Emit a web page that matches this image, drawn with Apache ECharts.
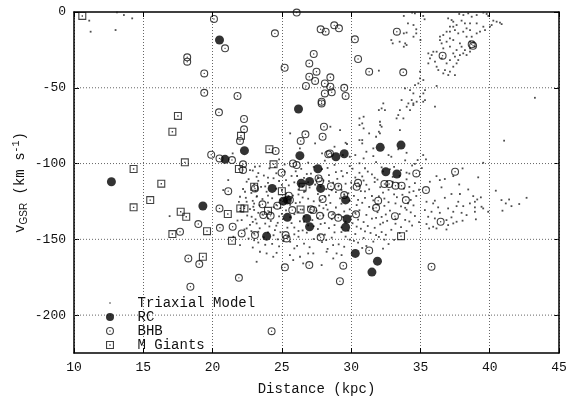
<!DOCTYPE html>
<html><head><meta charset="utf-8">
<script src="https://cdn.jsdelivr.net/npm/echarts@6/dist/echarts.min.js"></script>
<style>html,body{margin:0;padding:0;background:#fff}#c{width:569px;height:396px}</style>
</head><body><div id="c"></div>
<script>
// Axis ticks
const xTicks = [10, 15, 20, 25, 30, 35, 40, 45];
const yTicks = [0, -50, -100, -150, -200];
const yMin = -225;

// Distance (kpc), v_GSR (km/s)
const triaxialModel = [
  // far-left stragglers
  [11.1,-5.7],[11.2,-13],[13.0,-11.9],[13.1,-0.3],[13.6,-2],[14.2,-4.2],[16.9,-134.7],
  // rising stream
  [33.8,-2.6],[34.4,-0.4],[34.6,-0.9],[35.2,-2.6],[35.3,-4.8],[34.1,-7.5],[34.5,-8.6],[33.8,-14.1],[34.0,-13.6],
  [32.9,-18.5],[33.0,-20.7],[33.5,-19.6],[33.9,-20.7],[33.8,-22.9],[34.0,-21.8],[34.7,-14.1],[34.5,-16.3],[35.0,-18.5],[34.7,-11.4],
  [37.0,-4.2],[37.25,-5.3],[37.8,-1.3],[38.1,-2.0],[38.45,-0.9],[38.7,-3.1],[39.06,-2.0],[39.54,-0.4],[39.78,-1.3],[39.9,-2.6],
  [40.26,-5.7],[40.5,-6.4],[40.74,-7.0],[40.86,-8.0],[40.14,-8.6],[40.02,-9.7],[39.54,-9.7],[39.66,-11.9],[39.3,-13.0],[39.06,-14.1],
  [38.7,-16.3],[38.33,-16.3],[38.58,-19.6],[38.82,-20.2],[38.94,-22.9],[38.58,-24.0],[38.21,-25.1],[38.09,-27.3],[38.33,-28.4],[38.58,-26.2],
  [37.85,-28.4],[37.61,-25.1],[37.37,-18.5],[37.13,-17.4],[36.89,-19.6],[36.53,-20.7],[36.41,-18.5],[37.13,-22.9],[36.65,-24.0],[37.37,-27.3],
  [37.49,-29.5],[37.13,-31.7],[36.89,-33.9],[37.37,-36.1],[37.13,-39.4],[37.01,-41.6],[36.65,-40.5],[36.29,-38.3],[36.17,-36.1],[36.05,-32.8],
  [35.69,-30.6],[35.57,-33.9],[35.81,-28.4],[35.93,-26.2],[35.57,-27.3],[36.17,-26.2],[36.53,-30.6],[36.77,-38.3],[37.49,-41.6],[37.61,-33.9],
  [37.73,-31.7],[37.85,-20.7],[37.97,-22.9],[38.09,-13.0],[37.73,-14.1],[37.49,-11.9],[37.13,-13.0],[36.89,-13.0],[36.41,-16.3],[36.65,-15.2],
  [38.33,-10.8],[38.58,-11.9],[39.06,-7.5],[38.58,-7.5],[38.21,-7.5],[37.97,-5.7],[37.61,-8.6],[37.37,-9.7],[37.37,-6.4],[37.13,-9.7],
  [34.97,-39.4],[34.97,-43.8],[34.85,-47.1],[34.61,-48.2],[35.21,-44.9],[35.33,-51.5],[35.21,-53.7],[34.97,-55.9],[34.49,-53.7],[34.25,-51.5],
  [34.37,-58.1],[34.49,-60.3],[34.13,-60.3],[34.01,-62.5],[34.25,-64.7],[34.49,-61.4],[34.73,-59.2],[33.89,-50.4],[33.64,-58.1],[33.52,-64.7],
  [33.4,-68.0],[33.77,-70.2],[33.28,-70.2],[32.32,-60.3],[32.2,-63.6],[32.44,-64.7],[32.08,-72.4],[32.2,-75.7],[32.08,-80.1],[33.52,-77.9],
  [36.05,-62.5],[35.33,-58.1],[36.17,-48.8],
  [32.0,-38.7],[32.0,-64.7],[30.6,-70.2],[30.9,-69.1],[30.8,-73.5],[30.9,-76.8],[29.2,-77.9],[32.0,-79.0],[31.8,-82.3],[31.3,-80.1],
  [30.8,-86.7],[30.6,-84.5],[29.7,-87.1],[29.6,-86.3],[30.3,-94.4],[31.6,-90.0],[31.6,-95.1],[32.7,-94.4],[32.9,-95.5],[33.4,-90.6],
  [34.0,-92.9],[35.2,-94.4],[34.8,-97.7],[35.4,-97.2],
  // sparse band above the main clump
  [25.6,-80.1],[26.3,-90.0],[27.4,-86.7],[27.9,-93.3],[28.8,-88.9],[29.4,-94.4],[29.9,-95.5],[30.6,-74.6],[30.8,-84.5],[31.1,-92.2],
  [32.1,-74.6],[28.5,-75.7],[21.45,-93.3],
  // right wing of the clump
  [35.2,-59.2],[41.04,-84.9],[39.53,-99.5],[38.04,-103.2],[37.37,-108.3],[36.16,-108.3],[39.17,-109.1],[35.68,-112],[36.4,-110.9],[36.76,-110.2],
  [37.8,-113.8],[36.52,-115.7],[38.45,-117.1],[40.44,-117.9],[37.24,-120.1],[37.85,-120.1],[36.76,-122.6],[38.81,-121.5],[39.36,-122.3],[39.1,-123.7],
  [40.85,-124.1],[41.4,-123.7],[42.66,-122.6],[41.16,-126.3],[41.57,-128.1],[42.13,-126.7],[40.92,-131.1],[35.44,-125.2],[35.92,-126.3],[36.04,-124.5],
  [37.73,-125.2],[38.57,-126.3],[38.93,-125.2],[39.41,-128.5],[38.93,-128.9],[38.09,-128.1],[37.61,-128.1],[37.0,-129.6],[36.28,-128.9],[35.32,-130.7],
  [35.8,-131.8],[36.4,-132.5],[37.37,-131.8],[37.97,-132.5],[38.33,-134],[38.93,-131.8],[39.53,-129.6],[39.89,-131.8],[35.56,-135.1],[36.04,-136.2],
  [36.88,-137.3],[37.24,-135.5],[37.61,-138.4],[38.04,-137.7],[39.0,-136.8],[35.44,-139.9],[35.92,-141.7],[37.0,-140.6],[37.37,-139.5],[35.63,-142.8],
  [36.16,-142.8],[36.88,-143.5],[43.26,-56.6],
  // left fringe of the clump
  [23.06,-102.1],[22.7,-104.3],[23.18,-108.7],[22.46,-112],[21.98,-121.9],[22.34,-118.6],[23.18,-121.9],[22.46,-125.2],[22.94,-128.5],[22.82,-135.1],
  [22.1,-137.3],[23.18,-139.5],[22.46,-142.8],[21.5,-148.3],[21.98,-153.8],[21.13,-110.9],[20.77,-117.5],[23.3,-145],
  // main clump
  [24.8,-97.2],[26.9,-99.4],[28.1,-98.1],[30.9,-96.6],[31.8,-99.0],[33.9,-97.9],[34.6,-100.2],
  [23.4,-101.8],[25.2,-100.6],[27.3,-102.2],[28.8,-100.9],[29.9,-101.7],[30.6,-99.8],[32.2,-102.5],[34.4,-101.3],
  [22.9,-104.6],[24.1,-103.2],[26.0,-105.1],[27.9,-103.7],[29.3,-104.9],[30.1,-103.4],[31.2,-105.3],[32.8,-103.9],[33.6,-104.4],[35.1,-103.0],
  [23.7,-107.9],[24.6,-106.4],[25.7,-108.2],[26.8,-106.9],[28.4,-107.6],[29.7,-106.2],[30.8,-108.5],[31.5,-107.1],[33.0,-108.8],[34.2,-106.6],
  [22.6,-110.3],[23.3,-111.4],[24.4,-109.7],[25.3,-110.9],[26.6,-109.4],[28.0,-111.2],[29.0,-110.1],[30.3,-109.2],[31.9,-110.6],[32.6,-111.7],[34.0,-110.4],
  [23.0,-113.6],[24.0,-112.8],[25.0,-114.1],[25.9,-112.4],[27.4,-113.9],[28.7,-112.6],[29.6,-113.3],[31.1,-114.0],[31.7,-112.2],[33.4,-113.1],[34.6,-112.9],
  [22.2,-116.8],[23.5,-115.4],[24.6,-116.6],[26.2,-117.2],[27.0,-115.8],[28.2,-116.9],[29.3,-117.4],[30.0,-116.1],[31.3,-117.0],[32.1,-115.6],[33.8,-116.5],[34.9,-117.3],
  [22.8,-119.4],[23.9,-118.6],[25.3,-119.9],[26.7,-118.3],[27.6,-120.1],[28.9,-118.9],[29.8,-119.6],[30.7,-118.2],[32.3,-119.2],[33.1,-120.3],[34.2,-119.0],
  [22.4,-122.6],[23.2,-121.5],[24.3,-122.9],[25.8,-121.2],[26.5,-122.4],[28.1,-121.8],[29.2,-123.0],[30.2,-121.3],[31.0,-122.7],[32.0,-121.6],[33.3,-122.2],[34.7,-121.4],
  [21.9,-125.3],[22.9,-124.6],[24.0,-125.8],[24.9,-124.2],[26.3,-125.6],[27.3,-124.9],[28.5,-126.0],[29.9,-124.5],[30.8,-125.9],[31.6,-124.3],[32.7,-125.5],[34.1,-126.2],
  [22.3,-128.2],[23.4,-127.5],[24.4,-128.8],[25.6,-127.2],[26.9,-128.4],[27.7,-127.8],[28.9,-129.0],[30.4,-127.4],[31.3,-128.6],[32.4,-127.9],[33.6,-128.3],[34.5,-127.6],
  [22.0,-131.4],[23.0,-130.6],[24.1,-131.8],[25.3,-130.9],[26.2,-132.0],[27.5,-131.1],[28.3,-130.4],[29.5,-131.6],[30.6,-130.8],[31.9,-132.1],[32.8,-131.0],[34.0,-130.5],
  [22.5,-134.3],[23.6,-133.6],[24.8,-134.9],[25.9,-133.4],[26.6,-135.0],[28.0,-134.2],[29.1,-133.7],[30.0,-134.8],[31.1,-133.9],[32.2,-135.2],[33.5,-133.3],[34.6,-134.6],
  [21.8,-137.6],[23.1,-136.8],[24.2,-137.9],[25.1,-136.5],[26.3,-138.1],[27.2,-137.3],[28.6,-136.7],[29.6,-138.3],[30.5,-137.0],[31.5,-136.3],[32.6,-137.8],[33.9,-137.2],[34.9,-138.6],
  [22.7,-140.4],[23.8,-139.6],[24.6,-141.0],[25.7,-139.3],[26.9,-140.8],[27.8,-139.9],[28.8,-140.6],[30.1,-139.4],[31.2,-141.2],[32.1,-140.1],[33.2,-139.7],[34.4,-140.9],
  [22.3,-143.5],[23.4,-142.7],[24.5,-143.9],[25.4,-142.3],[26.5,-144.1],[27.6,-143.2],[28.4,-142.6],[29.8,-144.3],[30.7,-143.0],[31.7,-142.4],[32.9,-143.7],[34.0,-144.5],
  [23.0,-146.2],[24.0,-145.4],[25.9,-146.7],[26.8,-145.6],[28.1,-146.9],[29.3,-145.2],[30.3,-146.5],[31.4,-145.8],[32.5,-147.0],[33.5,-145.9],
  [22.6,-149.5],[23.7,-148.7],[24.7,-150.0],[26.2,-148.3],[27.3,-149.8],[28.6,-148.9],[29.9,-150.2],[30.9,-149.1],[32.0,-148.4],[33.1,-150.4],
  [23.3,-152.1],[24.3,-153.0],[25.6,-151.6],[26.6,-152.8],[27.9,-151.9],[29.1,-153.3],[30.5,-152.2],[31.6,-151.5],[32.7,-153.1],
  [22.9,-155.4],[24.8,-154.7],[25.9,-156.0],[27.0,-155.2],[28.3,-156.3],[29.5,-154.9],[30.8,-155.7],[32.3,-156.1],
  // denser core of the clump
  [24.5,-102.4],[26.4,-103.5],[28.3,-102.9],[31.0,-103.1],[33.1,-102.2],
  [23.3,-106.3],[25.2,-105.4],[27.1,-106.6],[28.9,-105.7],[30.6,-106.1],[32.3,-105.2],[34.0,-106.0],
  [24.0,-109.3],[26.1,-108.2],[27.6,-109.0],[29.4,-108.4],[31.7,-109.4],[33.5,-108.1],
  [24.8,-111.5],[26.9,-112.3],[28.4,-111.6],[30.0,-112.5],[30.9,-111.2],[33.0,-112.0],
  [23.8,-115.1],[25.5,-114.4],[27.8,-115.3],[29.1,-114.6],[30.6,-115.0],[32.6,-114.2],[34.2,-115.4],
  [23.1,-118.1],[25.0,-117.4],[26.6,-118.6],[28.6,-117.6],[31.0,-118.4],[32.7,-117.3],[34.5,-118.2],
  [24.0,-121.2],[26.2,-120.4],[28.4,-121.0],[29.5,-120.3],[31.5,-121.4],[33.7,-120.6],
  [23.6,-123.4],[25.4,-124.3],[26.9,-123.2],[27.8,-124.1],[30.5,-123.9],[32.4,-123.1],[34.3,-124.0],
  [23.0,-126.4],[24.6,-127.2],[26.0,-126.1],[28.2,-127.3],[29.3,-126.5],[31.9,-127.0],[33.2,-126.3],
  [22.7,-130.1],[24.9,-129.3],[26.5,-130.4],[28.0,-129.5],[29.9,-130.2],[31.6,-129.6],[33.9,-129.2],
  [23.3,-132.5],[25.0,-133.2],[27.1,-132.4],[28.7,-133.4],[30.3,-132.6],[32.5,-133.6],[34.3,-132.2],
  [24.0,-136.2],[25.6,-135.4],[27.6,-136.0],[29.4,-135.2],[31.8,-135.9],[33.2,-136.4],
  [22.9,-138.5],[24.7,-139.1],[26.6,-138.4],[28.1,-139.3],[30.9,-138.6],[32.3,-139.0],[34.2,-138.2],
  [24.1,-141.5],[25.9,-142.2],[27.3,-141.4],[29.3,-142.1],[30.4,-141.6],[33.6,-142.0],
  [22.8,-144.6],[24.9,-145.3],[26.2,-144.5],[28.8,-145.4],[31.0,-144.7],[32.2,-145.2],
  [24.4,-147.3],[25.4,-148.1],[27.7,-147.5],[29.6,-148.2],[31.8,-147.2],
  [23.0,-150.6],[25.1,-151.2],[28.2,-150.5],[30.2,-151.0],[32.4,-150.2],
  [23.8,-153.6],[26.1,-154.3],[28.7,-153.8],[31.1,-154.4],
  // lower tail
  [23.18,-164.8],[23.42,-158.2],[23.9,-159.3],[24.38,-161.5],[24.62,-158.9],[25.58,-160.4],[25.82,-163.7],[26.31,-161.5],[26.54,-165.9],[26.9,-159.3],
  [27.27,-159.3],[27.87,-167],[28.23,-158.2],[28.95,-159.3],[29.31,-160.4],[28.71,-162.6]
];

const rcStars = [
  [20.5,-18.5],[12.7,-112],[19.3,-128],[26.2,-64],[22.3,-91.5],[26.3,-94.8],[28.9,-95.5],[29.5,-93.5],[27.6,-103.4],[26.4,-113],
  [27.0,-111.8],[27.8,-116.4],[24.3,-116.4],[25.1,-124.8],[25.4,-124],[29.6,-124],[25.4,-135.5],[26.8,-136.2],[29.7,-136.6],[27.0,-141.7],
  [29.6,-142],[32.1,-89.3],[33.6,-87.8],[32.5,-105.4],[33.3,-106.9],[23.9,-147.9],[30.3,-159.3],[31.9,-164.4],[31.5,-171.6],[20.9,-97.2]
];

const bhbStars = [
  [26.07,-0.4],[20.1,-4.6],[24.5,-14.1],[20.9,-24],[18.17,-29.9],[18.17,-32.8],[19.4,-40.5],[19.4,-53.3],[21.8,-55.4],[20.46,-66.2],
  [22.27,-70.6],[22.27,-77.4],[27.8,-11.4],[28.16,-13],[28.78,-8.8],[29.12,-10.8],[30.27,-18],[30.5,-31],[31.3,-39.4],[27.3,-27.7],
  [26.98,-33.9],[27.5,-39.4],[25.2,-36.8],[26.98,-42.7],[27.4,-45.5],[28.5,-43.1],[28.1,-47.1],[28.5,-49.3],[26.74,-48.8],[29.5,-50],
  [28.1,-53.7],[28.6,-53],[29.6,-55.4],[27.87,-59.2],[27.87,-60.3],[28.04,-75.7],[26.7,-80.7],[27.94,-82.3],[33.3,-13],[36.6,-28.8],
  [38.7,-21.3],[38.8,-22.3],[33.76,-39.8],[21.98,-85.1],[19.9,-94.2],[20.5,-96.6],[21.4,-97.7],[22.2,-100.5],[22.2,-104.3],[21.13,-118.2],
  [23.06,-116.4],[20.5,-129.6],[18.97,-139.9],[17.65,-145],[20.53,-142.4],[21.45,-141.7],[22.1,-146.1],[23.06,-147.2],[18.25,-162.6],[19.04,-166.3],
  [18.4,-181.3],[21.9,-175.4],[25.22,-168.5],[24.26,-210.6],[26.98,-167],[29.43,-167.4],[29.19,-177.6],[35.8,-168.1],[31.3,-157.3],[26.36,-85.1],
  [24.55,-91.7],[28.47,-93.3],[28.35,-93.9],[25.8,-99.9],[26.07,-101],[24.98,-106],[34.7,-106.5],[27.65,-109.8],[27.75,-111.6],[28.54,-114.9],
  [29.07,-115.3],[30.5,-112.7],[30.4,-115.3],[32.4,-113.5],[32.75,-113.5],[33.2,-114.6],[33.64,-114.6],[35.4,-117.5],[25.5,-121.2],[25.58,-124.1],
  [27.94,-123.4],[29.5,-120.8],[31.95,-124.5],[33.95,-124.1],[23.6,-126.9],[24.67,-127.8],[25.75,-130.7],[27.1,-130.2],[27.26,-130.7],[27.75,-134.5],
  [28.6,-134],[29.07,-135.8],[30.35,-133.5],[31.8,-129.2],[33.16,-134.7],[36.46,-138.4],[23.66,-134],[24.19,-134.5],[25.27,-147.2],[25.34,-149.4],
  [27.8,-148.7],[37.5,-105.4]
];

const mGiants = [
  [10.6,-2.6],[17.5,-68.6],[17.1,-79],[18.0,-99.2],[14.3,-103.6],[16.3,-113.3],[15.5,-124.1],[14.3,-128.9],[17.7,-131.8],[18.1,-135.1],
  [17.1,-146.5],[19.6,-144.6],[19.3,-161.5],[22.05,-81.7],[21.9,-103.6],[23.0,-115.3],[21.1,-133.3],[22.0,-129.6],[22.3,-129.6],[21.4,-151],
  [24.1,-90.5],[24.4,-100.5],[25.0,-118.2],[26.5,-115.3],[24.0,-131.2],[26.35,-130.3],[33.6,-147.9]
];

const seriesNames = ['Triaxial Model', 'RC', 'BHB', 'M Giants'];

// Marker shapes: open circle / open square with a centre dot, tiny dot
const ringDot = 'path://M4 0A4 4 0 1 1 4 8A4 4 0 1 1 4 0Z M4 1.1A2.9 2.9 0 1 0 4 6.9A2.9 2.9 0 1 0 4 1.1Z M4 3.3A0.7 0.7 0 1 1 4 4.7A0.7 0.7 0 1 1 4 3.3Z';
const boxDot = 'path://M0 0H8V8H0Z M1.1 1.1V6.9H6.9V1.1Z M3.3 3.3V4.7H4.7V3.3Z';
const tinyDot = 'path://M0 0M10 10M4.2 4.2H5.8V5.8H4.2Z';

const FONT = 'Liberation Mono, Courier New, monospace';
const INK = '#111';
// a fresh style object for every grid line owner
const gridStyle = () => ({ color: '#666', type: [1, 2], width: 1 });

const chart = echarts.init(document.getElementById('c'), null, { renderer: 'canvas' });

const xMin = xTicks[0];
const xMax = xTicks[xTicks.length - 1];
const xStep = xTicks[1] - xTicks[0];
const frameLine = () => ({ show: true, onZero: false, lineStyle: { color: '#000', width: 1.5 } });
const innerTickX = () => ({ show: true, inside: true, length: 5, lineStyle: { color: '#000' } });
const innerTickY = () => ({ show: true, inside: true, length: 5, customValues: yTicks.slice(), lineStyle: { color: '#000' } });

// dotted horizontal reference lines across the plot at each inner v_GSR tick
const hGridSeries = yTicks
  .filter((v) => v > yMin && v < yTicks[0])
  .map((v) => ({
    type: 'line', data: [[xMin, v], [xMax, v]],
    symbol: 'none', silent: true, animation: false, z: 1,
    lineStyle: gridStyle(), emphasis: { disabled: true }, tooltip: { show: false }
  }));

chart.setOption({
  animation: false,
  backgroundColor: '#fff',
  grid: { left: 74, right: 10, top: 12, bottom: 43, containLabel: false, outerBoundsMode: 'none' },
  legend: {
    orient: 'vertical',
    left: 106, top: 296,
    padding: 0,
    itemGap: 0,
    itemWidth: 45,
    itemHeight: 8,
    selectedMode: false,
    textStyle: { fontFamily: FONT, fontSize: 14, color: INK, lineHeight: 14 },
    data: [
      { name: 'Triaxial Model', icon: tinyDot },
      { name: 'RC', icon: 'circle' },
      { name: 'BHB', icon: ringDot },
      { name: 'M Giants', icon: boxDot }
    ]
  },
  xAxis: [
    {
      type: 'value', position: 'bottom',
      min: xMin, max: xMax, interval: xStep,
      name: 'Distance (kpc)', nameLocation: 'middle', nameGap: 29, nameMoveOverlap: false,
      nameTextStyle: { fontFamily: FONT, fontSize: 14, color: INK },
      axisLine: frameLine(),
      axisTick: innerTickX(),
      axisLabel: { fontFamily: FONT, fontSize: 13, color: INK, margin: 8 },
      splitLine: { show: true, lineStyle: gridStyle() }
    },
    {
      type: 'value', position: 'top',
      min: xMin, max: xMax, interval: xStep,
      axisLine: frameLine(), axisTick: innerTickX(),
      axisLabel: { show: false }, splitLine: { show: false }
    }
  ],
  yAxis: [
    {
      type: 'value', position: 'left', min: yMin, max: yTicks[0],
      name: '{v|v}{s|GSR}{t| (km s}{p|-1}{t|)}',
      nameLocation: 'middle', nameGap: 45, nameRotate: 90, nameMoveOverlap: false,
      nameTextStyle: {
        fontFamily: FONT, color: INK,
        rich: {
          v: { fontFamily: FONT, fontSize: 14, color: INK, lineHeight: 18, verticalAlign: 'middle' },
          t: { fontFamily: FONT, fontSize: 14, color: INK, lineHeight: 18, verticalAlign: 'middle' },
          s: { fontFamily: 'Liberation Sans, Arial, sans-serif', fontSize: 10, color: INK, lineHeight: 18, verticalAlign: 'bottom' },
          p: { fontFamily: FONT, fontSize: 10, color: INK, lineHeight: 18, verticalAlign: 'top' }
        }
      },
      axisLine: frameLine(),
      axisTick: innerTickY(),
      axisLabel: { fontFamily: FONT, fontSize: 13, color: INK, margin: 8, customValues: yTicks.slice() },
      splitLine: { show: false }
    },
    {
      type: 'value', position: 'right', min: yMin, max: yTicks[0],
      axisLine: frameLine(), axisTick: innerTickY(),
      axisLabel: { show: false }, splitLine: { show: false }
    }
  ],
  series: hGridSeries.concat([
    {
      name: seriesNames[0], type: 'scatter', data: triaxialModel,
      symbol: 'rect', symbolSize: 1.8, silent: true,
      itemStyle: { color: '#222' }, z: 2
    },
    {
      name: seriesNames[1], type: 'scatter', data: rcStars,
      symbol: 'circle', symbolSize: 9, silent: true,
      itemStyle: { color: '#000' }, z: 4
    },
    {
      name: seriesNames[2], type: 'scatter', data: bhbStars,
      symbol: ringDot, symbolSize: 8, silent: true,
      itemStyle: { color: '#111' }, z: 3
    },
    {
      name: seriesNames[3], type: 'scatter', data: mGiants,
      symbol: boxDot, symbolSize: 8, silent: true,
      itemStyle: { color: '#111' }, z: 3
    }
  ])
});
</script>
</body></html>
